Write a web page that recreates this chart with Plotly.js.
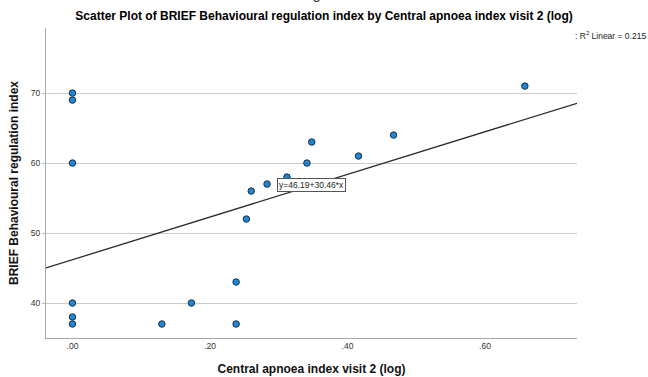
<!DOCTYPE html>
<html>
<head>
<meta charset="utf-8">
<script src="https://cdn.plot.ly/plotly-3.0.1.min.js"></script>
<style>
  html, body { margin: 0; padding: 0; background: #fff; }
  #chart { width: 648px; height: 377px; }
</style>
</head>
<body>
<div id="chart"></div>
<script>
// Central apnoea index visit 2 (log) for each child
const apnoeaLog = [0, 0, 0, 0, 0, 0, 0.130, 0.173, 0.238, 0.238, 0.253, 0.260,
                   0.283, 0.312, 0.341, 0.348, 0.416, 0.467, 0.658];
// BRIEF Behavioural regulation index for the same children
const briefBRI = [70, 69, 60, 40, 38, 37, 37, 40, 43, 37, 52, 56,
                  57, 58, 60, 63, 61, 64, 71];

// Linear fit: y = intercept + slope * x
const fitIntercept = 46.19;
const fitSlope = 30.46;
const fitR2 = 0.215;

const xTickVals = [0, 0.2, 0.4, 0.6];
const xTickText = ['.00', '.20', '.40', '.60'];
const yTickVals = [40, 50, 60, 70];

const xRange = [-0.0385, 0.7338];
const yRange = [35, 79.3];

const fitX = xRange.slice();
const fitY = fitX.map(x => fitIntercept + fitSlope * x);

const FONT = 'Liberation Sans, Arial, sans-serif';

const traces = [
  {
    x: fitX, y: fitY, type: 'scatter', mode: 'lines',
    line: { color: '#2b2b2b', width: 1.3 },
    hoverinfo: 'skip', showlegend: false
  },
  {
    x: apnoeaLog, y: briefBRI, type: 'scatter', mode: 'markers',
    marker: { size: 6.5, color: '#1e88d8', line: { color: '#1c2f45', width: 1 } },
    showlegend: false
  }
];

const layout = {
  width: 648, height: 377,
  margin: { l: 46, r: 71, t: 28, b: 39 },
  paper_bgcolor: '#ffffff', plot_bgcolor: '#ffffff',
  font: { family: FONT, color: '#222' },
  title: {
    text: '<b>Scatter Plot of BRIEF Behavioural regulation index by Central apnoea index visit 2 (log)</b>',
    font: { family: FONT, size: 12, color: '#000' },
    xref: 'container', x: 0.5, xanchor: 'center',
    yref: 'container', y: 1 - 16 / 377, yanchor: 'middle'
  },
  xaxis: {
    range: xRange, tickvals: xTickVals, ticktext: xTickText,
    showgrid: false, zeroline: false,
    showline: true, linecolor: '#a8a8a8', linewidth: 1,
    ticks: '', tickfont: { family: FONT, size: 8.5, color: '#333' },
    title: {
      text: '<b>Central apnoea index visit 2 (log)</b>',
      font: { family: FONT, size: 12, color: '#111' }, standoff: 14
    },
    automargin: false
  },
  yaxis: {
    range: yRange, tickvals: yTickVals,
    showgrid: true, gridcolor: '#cccccc', gridwidth: 1, zeroline: false,
    showline: true, linecolor: '#a8a8a8', linewidth: 1,
    ticks: 'outside', ticklen: 3, tickcolor: '#bbbbbb',
    tickfont: { family: FONT, size: 8.5, color: '#333' },
    title: {
      text: '<b>BRIEF Behavioural regulation index</b>',
      font: { family: FONT, size: 12, color: '#111' }, standoff: 9
    },
    automargin: false
  },
  annotations: [
    {
      text: 'Figure 2b', xref: 'paper', yref: 'paper',
      x: (330 - 46) / 531, y: (338 - 4) / 310, xanchor: 'center', yanchor: 'bottom',
      showarrow: false, font: { family: FONT, size: 14, color: '#222' }
    },
    {
      text: ': R<sup>2</sup> Linear = ' + fitR2.toFixed(3), xref: 'paper', yref: 'paper',
      x: (648 - 46) / 531, y: (338 - 35) / 310, xanchor: 'right', yanchor: 'middle',
      showarrow: false, font: { family: FONT, size: 8.5, color: '#222' }
    },
    {
      text: 'y=' + fitIntercept.toFixed(2) + '+' + fitSlope.toFixed(2) + '*x',
      xref: 'x', yref: 'y', x: 0.347, y: 56.9, xanchor: 'center', yanchor: 'middle',
      showarrow: false, font: { family: FONT, size: 8.5, color: '#222' },
      bgcolor: '#ffffff', bordercolor: '#555555', borderwidth: 1, borderpad: 1
    }
  ]
};

Plotly.newPlot('chart', traces, layout, { displayModeBar: false, staticPlot: true });
</script>
</body>
</html>
